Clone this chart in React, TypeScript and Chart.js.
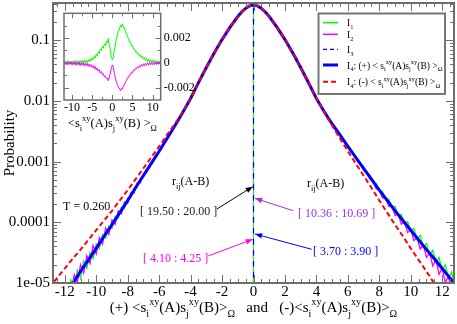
import React, { useEffect, useRef } from 'react';
import { Chart, registerables } from 'chart.js';

Chart.register(...registerables);

const FONT = '"Liberation Serif", "Times New Roman", serif';
const AXIS_COLOR = '#6e6e6e';

// ---------- main plot data (log10 of probability) ----------
const curveX = [-13, -12.5, -12, -11.5, -11, -10.5, -10, -9.5, -9, -8.5, -8, -7.5, -7, -6.5, -6, -5.5, -5, -4.5, -4, -3.5, -3, -2.5, -2, -1.5, -1, -0.75, -0.5, -0.25, 0, 0.25, 0.5, 0.75, 1, 1.5, 2, 2.5, 3, 3.5, 4, 4.5, 5, 5.5, 6, 6.5, 7, 7.5, 8, 8.5, 9, 9.5, 10, 10.5, 11, 11.5, 12, 12.5, 13];
const blueLog10 = [-5.58, -5.39, -5.2, -5.01, -4.81, -4.62, -4.43, -4.23, -4.04, -3.84, -3.64, -3.43, -3.23, -3.03, -2.83, -2.62, -2.41, -2.19, -1.96, -1.7, -1.45, -1.21, -0.99, -0.79, -0.61, -0.535, -0.475, -0.435, -0.42, -0.435, -0.475, -0.535, -0.61, -0.79, -0.99, -1.21, -1.45, -1.7, -1.96, -2.18, -2.38, -2.56, -2.75, -2.93, -3.11, -3.29, -3.47, -3.64, -3.81, -3.97, -4.13, -4.29, -4.45, -4.6, -4.76, -4.92, -5.08];
const redLog10 = [-5.08, -4.92, -4.76, -4.6, -4.45, -4.29, -4.13, -3.97, -3.81, -3.64, -3.47, -3.29, -3.11, -2.93, -2.75, -2.56, -2.38, -2.18, -1.96, -1.7, -1.45, -1.21, -0.99, -0.79, -0.61, -0.535, -0.475, -0.435, -0.42, -0.435, -0.475, -0.535, -0.61, -0.79, -0.99, -1.21, -1.45, -1.7, -1.96, -2.19, -2.41, -2.62, -2.83, -3.03, -3.23, -3.43, -3.64, -3.84, -4.04, -4.23, -4.43, -4.62, -4.81, -5.01, -5.2, -5.39, -5.58];

const coreX = [-6, -5.5, -5, -4.5, -4, -3.5, -3, -2.5, -2, -1.5, -1, -0.75, -0.5, -0.25, 0, 0.25, 0.5, 0.75, 1, 1.5, 2, 2.5, 3, 3.5, 4, 4.5, 5, 5.5, 6];
const coreLog10 = [-2.83, -2.62, -2.41, -2.19, -1.96, -1.7, -1.45, -1.21, -0.99, -0.79, -0.61, -0.535, -0.475, -0.435, -0.42, -0.435, -0.475, -0.535, -0.61, -0.79, -0.99, -1.21, -1.45, -1.7, -1.96, -2.18, -2.38, -2.56, -2.75];

const leftTailX = [-12, -11.8, -11.6, -11.4, -11.2, -11, -10.8, -10.6, -10.4, -10.2, -10, -9.8, -9.6, -9.4, -9.2, -9, -8.8, -8.6, -8.4, -8.2, -8, -7.8, -7.6, -7.4, -7.2, -7, -6.8, -6.6, -6.4, -6.2];
const rightTailX = [6.2, 6.4, 6.6, 6.8, 7, 7.2, 7.4, 7.6, 7.8, 8, 8.2, 8.4, 8.6, 8.8, 9, 9.2, 9.4, 9.6, 9.8, 10, 10.2, 10.4, 10.6, 10.8, 11, 11.2, 11.4, 11.6, 11.8, 12, 12.2, 12.4, 12.6, 12.8, 13];

const i1LeftLog10 = [-5.3, -5.2, -4.95, -5.08, -4.79, -4.92, -4.64, -4.76, -4.5, -4.6, -4.36, -4.43, -4.2, -4.26, -4.06, -4.1, -3.9, -3.93, -3.75, -3.77, -3.6, -3.6, -3.44, -3.43, -3.28, -3.26, -3.12, -3.09, -2.97, -2.93];
const i1RightLog10 = [-2.8, -2.9, -2.95, -3.05, -3.08, -3.19, -3.22, -3.34, -3.36, -3.48, -3.49, -3.62, -3.62, -3.75, -3.74, -3.88, -3.87, -4.02, -3.99, -4.14, -4.1, -4.28, -4.22, -4.41, -4.35, -4.53, -4.46, -4.66, -4.58, -4.8, -4.7, -4.93, -4.82, -5.06, -4.98];
const i2LeftLog10 = [-5.3, -5.02, -5.15, -4.86, -4.99, -4.7, -4.84, -4.55, -4.68, -4.38, -4.52, -4.25, -4.36, -4.09, -4.2, -3.96, -4.03, -3.81, -3.86, -3.66, -3.69, -3.51, -3.52, -3.35, -3.35, -3.2, -3.18, -3.05, -3.01, -2.89];
const i2RightLog10 = [-2.83, -2.88, -2.99, -3.03, -3.14, -3.17, -3.29, -3.32, -3.45, -3.46, -3.6, -3.6, -3.74, -3.73, -3.89, -3.86, -4.03, -3.99, -4.17, -4.12, -4.3, -4.25, -4.44, -4.37, -4.58, -4.5, -4.72, -4.61, -4.86, -4.75, -5.0, -4.88, -5.15, -5.01, -5.2];

const zeroLineX = [0, 0];
const zeroLineY = [1e-6, 1];

const xTickValues = [-12, -10, -8, -6, -4, -2, 0, 2, 4, 6, 8, 10, 12];
const xTickLabels = ['-12', '-10', '-8', '-6', '-4', '-2', '0', '2', '4', '6', '8', '10', '12'];
const yTickValues = [1e-5, 1e-4, 1e-3, 1e-2, 1e-1];
const yTickLabels = ['1e-05', '0.0001', '0.001', '0.01', '0.1'];

// ---------- inset data ----------
const insetX = [
  -12, -11.75, -11.5, -11.25, -11, -10.75, -10.5, -10.25, -10, -9.75, -9.5, -9.25, -9, -8.75, -8.5, -8.25,
  -8, -7.75, -7.5, -7.25, -7, -6.75, -6.5, -6.25, -6, -5.75, -5.5, -5.25, -5, -4.75, -4.5, -4.25,
  -4, -3.75, -3.5, -3.25, -3, -2.75, -2.5, -2.25, -2, -1.75, -1.5, -1.25, -1, -0.75, -0.5, -0.25,
  0, 0.25, 0.5, 0.75, 1, 1.25, 1.5, 1.75, 2, 2.25, 2.5, 2.75, 3, 3.25, 3.5, 3.75,
  4, 4.25, 4.5, 4.75, 5, 5.25, 5.5, 5.75, 6, 6.25, 6.5, 6.75, 7, 7.25, 7.5, 7.75,
  8, 8.25, 8.5, 8.75, 9, 9.25, 9.5, 9.75, 10, 10.25, 10.5, 10.75, 11, 11.25, 11.5, 11.75, 12,
];
const insetI1 = [
  1.5e-4, -0.8e-4, 1.2e-4, -0.5e-4, 1.8e-4, -0.6e-4, 1.0e-4, -1.0e-4, 1.6e-4, -0.3e-4, 1.3e-4, -0.7e-4, 1.9e-4, -0.2e-4, 1.4e-4, -0.6e-4,
  2.0e-4, 0.0, 1.7e-4, -0.4e-4, 2.2e-4, 0.2e-4, 2.1e-4, 0.0, 2.6e-4, 0.8e-4, 3.2e-4, 1.6e-4, 4.2e-4, 2.6e-4, 5.3e-4, 3.9e-4,
  6.9e-4, 5.4e-4, 8.9e-4, 7.6e-4, 11.0e-4, 10.0e-4, 13.1e-4, 11.9e-4, 15.2e-4, 14.0e-4, 17.3e-4, 15.9e-4, 19.6e-4, 14.2e-4, 10.8e-4, 4.5e-4,
  2.5e-4, 4.0e-4, 10.9e-4, 14.0e-4, 20.3e-4, 21.5e-4, 26.2e-4, 26.5e-4, 30.5e-4, 29.0e-4, 31.5e-4, 28.2e-4, 28.5e-4, 24.5e-4, 24.2e-4, 20.5e-4,
  20.1e-4, 16.8e-4, 17.0e-4, 13.8e-4, 14.0e-4, 11.2e-4, 11.3e-4, 8.8e-4, 9.2e-4, 7.0e-4, 7.6e-4, 5.2e-4, 6.4e-4, 3.9e-4, 5.2e-4, 2.9e-4,
  4.4e-4, 1.8e-4, 3.6e-4, 1.0e-4, 3.1e-4, 0.6e-4, 2.5e-4, 0.2e-4, 2.2e-4, -0.2e-4, 1.9e-4, -0.4e-4, 1.7e-4, -0.6e-4, 1.5e-4, -0.6e-4, 1.2e-4,
];
const insetI2 = [
  -1.2e-4, 0.9e-4, -1.5e-4, 0.6e-4, -1.6e-4, 0.8e-4, -1.2e-4, 1.0e-4, -1.8e-4, 0.4e-4, -1.4e-4, 0.7e-4, -2.0e-4, 0.3e-4, -1.6e-4, 0.5e-4,
  -2.2e-4, 0.0, -1.9e-4, 0.2e-4, -2.4e-4, -0.3e-4, -2.3e-4, -0.4e-4, -2.8e-4, -0.9e-4, -3.1e-4, -1.5e-4, -3.8e-4, -2.2e-4, -4.6e-4, -3.0e-4,
  -5.7e-4, -4.1e-4, -6.8e-4, -5.4e-4, -8.2e-4, -7.0e-4, -9.4e-4, -8.6e-4, -11.3e-4, -10.5e-4, -12.6e-4, -12.3e-4, -14.5e-4, -11.5e-4, -8.2e-4, -4.0e-4,
  -1.8e-4, -3.9e-4, -8.5e-4, -12.0e-4, -15.6e-4, -17.5e-4, -19.8e-4, -20.2e-4, -22.5e-4, -20.8e-4, -21.2e-4, -18.4e-4, -18.0e-4, -15.2e-4, -14.5e-4, -12.0e-4,
  -12.0e-4, -9.6e-4, -9.6e-4, -7.5e-4, -8.0e-4, -5.8e-4, -6.2e-4, -4.3e-4, -5.0e-4, -3.1e-4, -4.2e-4, -2.2e-4, -3.4e-4, -1.3e-4, -2.8e-4, -0.8e-4,
  -2.4e-4, -0.3e-4, -2.0e-4, 0.1e-4, -1.8e-4, 0.3e-4, -1.6e-4, 0.5e-4, -1.5e-4, 0.6e-4, -1.4e-4, 0.7e-4, -1.3e-4, 0.8e-4, -1.2e-4, 0.8e-4, -1.1e-4,
];
const insetXTicks = [-10, -5, 0, 5, 10];
const insetXLabels = ['-10', '-5', '0', '5', '10'];
const insetYTicks = [-0.002, 0, 0.002];
const insetYLabels = ['-0.002', '0', '0.002'];

// ---------- text pieces ----------
type Seg = [string, number]; // 0 normal, 1 subscript, 2 superscript
const corr = (sign: string): Seg[] => [
  [sign + '<s', 0], ['i', 1], ['xy', 2], ['(A)s', 0], ['j', 1], ['xy', 2], ['(B)>', 0], ['\u03A9', 1],
];
const xTitle: Seg[] = [['(+) ', 0], ...corr(''), ['   and   ', 0], ...corr('(-)')];
const insetTitle: Seg[] = [['<s', 0], ['i', 1], ['xy', 2], ['(A)s', 0], ['j', 1], ['xy', 2], ['(B) >', 0], ['\u03A9', 1]];
const legendI4 = (sign: string): Seg[] => [
  ['I', 0], ['4', 1], [': ' + sign + ' < s', 0], ['i', 1], ['xy', 2], ['(A)s', 0], ['j', 1], ['xy', 2], ['(B) >', 0], ['\u03A9', 1],
];
const legendRows = [
  { segs: [['I', 0], ['1', 1]] as Seg[], color: '#00ff00', width: 1.5, dash: [] as number[] },
  { segs: [['I', 0], ['2', 1]] as Seg[], color: '#ff00ff', width: 1.5, dash: [] as number[] },
  { segs: [['I', 0], ['3', 1]] as Seg[], color: '#0000ff', width: 1.3, dash: [4, 3] },
  { segs: legendI4('(+)'), color: '#0000ff', width: 3, dash: [] as number[] },
  { segs: legendI4('(-)'), color: '#ff0000', width: 2, dash: [5, 3] },
];

const rij: Seg[] = [['r', 0], ['ij', 1], ['(A-B)', 0]];
const textNotes = [
  { segs: [['T = 0.260', 0]] as Seg[], x: -12.11, y: 1.86e-4, color: '#000000' },
  { segs: rij, x: -5.18, y: 4.79e-4, color: '#000000' },
  { segs: [['[ 19.50 : 20.00 ]', 0]] as Seg[], x: -7.22, y: 1.56e-4, color: '#222222' },
  { segs: [['[ 4.10 : 4.25 ]', 0]] as Seg[], x: -7.03, y: 2.55e-5, color: '#ff00ff' },
  { segs: rij, x: 3.4, y: 4.44e-4, color: '#000000' },
  { segs: [['[ 10.36 : 10.69 ]', 0]] as Seg[], x: 2.83, y: 1.44e-4, color: '#9a33dd' },
  { segs: [['[ 3.70 : 3.90 ]', 0]] as Seg[], x: 3.78, y: 3.4e-5, color: '#0000ff' },
];
const arrowNotes = [
  { from: [-2.32, 1.66e-4], to: [-0.05, 3.86e-4], color: '#000000' },
  { from: [-2.87, 2.79e-5], to: [-0.05, 5.25e-5], color: '#ff00ff' },
  { from: [2.53, 1.55e-4], to: [0.1, 2.48e-4], color: '#9a33dd' },
  { from: [3.7, 3.59e-5], to: [0.1, 6.41e-5], color: '#0000ff' },
];

// ---------- helpers ----------
const pts = (xs: number[], logs: number[]) => xs.map((x, i) => ({ x, y: Math.pow(10, logs[i]) }));
const raw = (xs: number[], ys: number[]) => xs.map((x, i) => ({ x, y: ys[i] }));

function segFont(size: number, kind: number) {
  const s = kind === 0 ? size : size * 0.68;
  return `${s}px ${FONT}`;
}
function richWidth(ctx: CanvasRenderingContext2D, segs: Seg[], size: number) {
  let w = 0;
  for (const [t, k] of segs) {
    ctx.font = segFont(size, k);
    w += ctx.measureText(t).width;
  }
  return w;
}
function drawRich(ctx: CanvasRenderingContext2D, segs: Seg[], x: number, baseline: number, size: number, color: string, align = 'left') {
  let cx = align === 'center' ? x - richWidth(ctx, segs, size) / 2 : x;
  ctx.fillStyle = color;
  ctx.textAlign = 'left';
  ctx.textBaseline = 'alphabetic';
  for (const [t, k] of segs) {
    ctx.font = segFont(size, k);
    const dy = k === 1 ? size * 0.3 : k === 2 ? -size * 0.45 : 0;
    ctx.fillText(t, cx, baseline + dy);
    cx += ctx.measureText(t).width;
  }
}
function drawArrow(ctx: CanvasRenderingContext2D, x1: number, y1: number, x2: number, y2: number, color: string) {
  ctx.strokeStyle = color;
  ctx.fillStyle = color;
  ctx.lineWidth = 1;
  ctx.setLineDash([]);
  ctx.beginPath();
  ctx.moveTo(x1, y1);
  ctx.lineTo(x2, y2);
  ctx.stroke();
  const ang = Math.atan2(y2 - y1, x2 - x1);
  const L = 7, W = 2.8;
  const bx = x2 - L * Math.cos(ang), by = y2 - L * Math.sin(ang);
  ctx.beginPath();
  ctx.moveTo(x2, y2);
  ctx.lineTo(bx + W * Math.sin(ang), by - W * Math.cos(ang));
  ctx.lineTo(bx - W * Math.sin(ang), by + W * Math.cos(ang));
  ctx.closePath();
  ctx.fill();
}

const mainDecor = {
  id: 'mainDecor',
  afterDatasetsDraw(chart: any) {
    const ctx: CanvasRenderingContext2D = chart.ctx;
    const a = chart.chartArea;
    const xs = chart.scales.x;
    const ys = chart.scales.y;
    const px = (v: number) => xs.getPixelForValue(v);
    const py = (v: number) => ys.getPixelForValue(v);
    ctx.save();
    ctx.setLineDash([]);
    ctx.strokeStyle = AXIS_COLOR;
    ctx.lineWidth = 1;
    const seg = (x1: number, y1: number, x2: number, y2: number) => {
      ctx.beginPath();
      ctx.moveTo(x1, y1);
      ctx.lineTo(x2, y2);
      ctx.stroke();
    };
    for (let v = -12.5; v <= 12.5 + 1e-9; v += 0.5) {
      const major = Math.abs(v % 2) < 1e-9;
      const len = major ? 8 : 4;
      const x = Math.round(px(v)) + 0.5;
      seg(x, a.bottom, x, a.bottom - len);
      seg(x, a.top, x, a.top + len);
    }
    for (let d = -5; d <= -1; d++) {
      for (let m = 1; m <= 9; m++) {
        const v = m * Math.pow(10, d);
        if (v > ys.max) continue;
        const len = m === 1 ? 8 : 4;
        const y = Math.round(py(v)) + 0.5;
        seg(a.left, y, a.left + len, y);
        seg(a.right, y, a.right - len, y);
      }
    }
    ctx.lineWidth = 2;
    ctx.strokeRect(a.left, a.top, a.right - a.left, a.bottom - a.top);

    // tick labels
    ctx.fillStyle = '#000';
    ctx.font = `15px ${FONT}`;
    ctx.textAlign = 'center';
    ctx.textBaseline = 'top';
    xTickValues.forEach((v, i) => ctx.fillText(xTickLabels[i], px(v), a.bottom + 2));
    ctx.textAlign = 'right';
    ctx.textBaseline = 'middle';
    yTickValues.forEach((v, i) => ctx.fillText(yTickLabels[i], a.left - 3, py(v)));

    // axis titles
    ctx.save();
    ctx.translate(10, (a.top + a.bottom) / 2);
    ctx.rotate(-Math.PI / 2);
    ctx.textAlign = 'center';
    ctx.textBaseline = 'middle';
    ctx.font = `15px ${FONT}`;
    ctx.fillText('Probability', 0, 0);
    ctx.restore();
    drawRich(ctx, xTitle, (a.left + a.right) / 2, a.bottom + 29, 15, '#000', 'center');

    // annotations
    textNotes.forEach((n) => drawRich(ctx, n.segs, px(n.x), py(n.y) + 4, 12, n.color));
    arrowNotes.forEach((n) => drawArrow(ctx, px(n.from[0]), py(n.from[1]), px(n.to[0]), py(n.to[1]), n.color));

    // legend
    const lx = a.right - 135.5, ly = a.top + 10.5, lw = 126.5, lh = 80.5;
    ctx.fillStyle = '#fff';
    ctx.fillRect(lx, ly, lw, lh);
    ctx.strokeStyle = '#777';
    ctx.lineWidth = 2;
    ctx.strokeRect(lx, ly, lw, lh);
    const rowOffsets = [9.2, 20.8, 35.8, 51.5, 68.2];
    legendRows.forEach((r, i) => {
      const y = ly + rowOffsets[i];
      ctx.strokeStyle = r.color;
      ctx.lineWidth = r.width;
      ctx.setLineDash(r.dash);
      ctx.beginPath();
      ctx.moveTo(lx + 4.5, y);
      ctx.lineTo(lx + 19.5, y);
      ctx.stroke();
      ctx.setLineDash([]);
      drawRich(ctx, r.segs, lx + 28.5, y + 3.5, 9.5, '#000');
    });
    ctx.restore();
  },
};

const insetDecor = {
  id: 'insetDecor',
  beforeDatasetsDraw(chart: any) {
    const ctx: CanvasRenderingContext2D = chart.ctx;
    const a = chart.chartArea;
    ctx.save();
    ctx.fillStyle = '#fff';
    ctx.fillRect(a.left, a.top, a.right - a.left, a.bottom - a.top);
    ctx.restore();
  },
  afterDatasetsDraw(chart: any) {
    const ctx: CanvasRenderingContext2D = chart.ctx;
    const a = chart.chartArea;
    const xs = chart.scales.x;
    const ys = chart.scales.y;
    const px = (v: number) => xs.getPixelForValue(v);
    const py = (v: number) => ys.getPixelForValue(v);
    ctx.save();
    ctx.strokeStyle = AXIS_COLOR;
    ctx.lineWidth = 1;
    const seg = (x1: number, y1: number, x2: number, y2: number) => {
      ctx.beginPath();
      ctx.moveTo(x1, y1);
      ctx.lineTo(x2, y2);
      ctx.stroke();
    };
    for (let v = -10; v <= 10 + 1e-9; v += 2.5) {
      const major = Math.abs(v % 5) < 1e-9;
      const len = major ? 5 : 3;
      const x = Math.round(px(v)) + 0.5;
      seg(x, a.bottom, x, a.bottom - len);
      seg(x, a.top, x, a.top + len);
    }
    for (let v = -0.002; v <= 0.0035; v += 0.001) {
      const major = Math.abs(Math.round(v * 1000)) % 2 === 0;
      const len = major ? 5 : 3;
      const y = Math.round(py(v)) + 0.5;
      seg(a.left, y, a.left + len, y);
      seg(a.right, y, a.right - len, y);
    }
    ctx.lineWidth = 1.5;
    ctx.strokeRect(a.left, a.top, a.right - a.left, a.bottom - a.top);
    ctx.fillStyle = '#000';
    ctx.font = `12px ${FONT}`;
    ctx.textAlign = 'center';
    ctx.textBaseline = 'top';
    insetXTicks.forEach((v, i) => ctx.fillText(insetXLabels[i], px(v), a.bottom + 2));
    ctx.textAlign = 'left';
    ctx.textBaseline = 'middle';
    insetYTicks.forEach((v, i) => ctx.fillText(insetYLabels[i], a.right + 3, py(v)));
    drawRich(ctx, insetTitle, (a.left + a.right) / 2, a.bottom + 27, 12.5, '#000', 'center');
    ctx.restore();
  },
};

export default function App() {
  const mainRef = useRef<HTMLCanvasElement>(null);
  const insetRef = useRef<HTMLCanvasElement>(null);

  useEffect(() => {
    const line = { pointRadius: 0, fill: false, tension: 0 };
    const main = new Chart(mainRef.current as HTMLCanvasElement, {
      type: 'line',
      data: {
        datasets: [
          { ...line, label: 'I4 (-)', data: pts(curveX, redLog10), borderColor: '#ff0000', borderWidth: 2, borderDash: [5, 3] },
          { ...line, label: 'I4 (+)', data: pts(curveX, blueLog10), borderColor: '#0000ff', borderWidth: 3 },
          { ...line, label: 'I3', data: raw(zeroLineX, zeroLineY), borderColor: '#0000ff', borderWidth: 1.2, borderDash: [6, 5] },
          { ...line, label: 'I2 zero', data: raw(zeroLineX, zeroLineY), borderColor: '#ff00ff', borderWidth: 1.2, borderDash: [2, 20], borderDashOffset: 8 },
          { ...line, label: 'I1 zero', data: raw(zeroLineX, zeroLineY), borderColor: '#33ee33', borderWidth: 1.2 },
          {
            ...line, label: 'I2',
            data: [...pts(leftTailX, i2LeftLog10), ...pts(coreX, coreLog10), ...pts(rightTailX, i2RightLog10)],
            borderColor: '#ff00ff', borderWidth: 1.3,
          },
          {
            ...line, label: 'I1',
            data: [...pts(leftTailX, i1LeftLog10), ...pts(coreX, coreLog10), ...pts(rightTailX, i1RightLog10)],
            borderColor: '#00ff00', borderWidth: 1.3,
          },
        ],
      },
      options: {
        animation: false,
        responsive: false,
        devicePixelRatio: 1,
        layout: { padding: { left: 53, top: 3, right: 3, bottom: 41 } },
        plugins: { legend: { display: false }, tooltip: { enabled: false } },
        scales: {
          x: { type: 'linear', min: -12.75, max: 12.75, display: false },
          y: { type: 'logarithmic', min: 1e-5, max: 0.41, display: false },
        },
      },
      plugins: [mainDecor],
    } as any);

    const inset = new Chart(insetRef.current as HTMLCanvasElement, {
      type: 'line',
      data: {
        datasets: [
          { ...line, label: 'I2', data: raw(insetX, insetI2), borderColor: '#ff00ff', borderWidth: 1 },
          { ...line, label: 'I1', data: raw(insetX, insetI1), borderColor: '#00ff00', borderWidth: 1 },
        ],
      },
      options: {
        animation: false,
        responsive: false,
        devicePixelRatio: 1,
        layout: { padding: { left: 14, top: 8.3, right: 39.3, bottom: 35 } },
        plugins: { legend: { display: false }, tooltip: { enabled: false } },
        scales: {
          x: { type: 'linear', min: -12, max: 12, display: false },
          y: { type: 'linear', min: -0.003, max: 0.004, display: false },
        },
      },
      plugins: [insetDecor],
    } as any);

    return () => {
      main.destroy();
      inset.destroy();
    };
  }, []);

  return (
    <div style={{ position: 'absolute', left: 0, top: 0, width: 457, height: 324, background: '#fff' }}>
      <canvas ref={mainRef} width={457} height={324} style={{ position: 'absolute', left: 0, top: 0, width: 457, height: 324 }} />
      <canvas ref={insetRef} width={150} height={130} style={{ position: 'absolute', left: 50, top: 5, width: 150, height: 130 }} />
    </div>
  );
}
